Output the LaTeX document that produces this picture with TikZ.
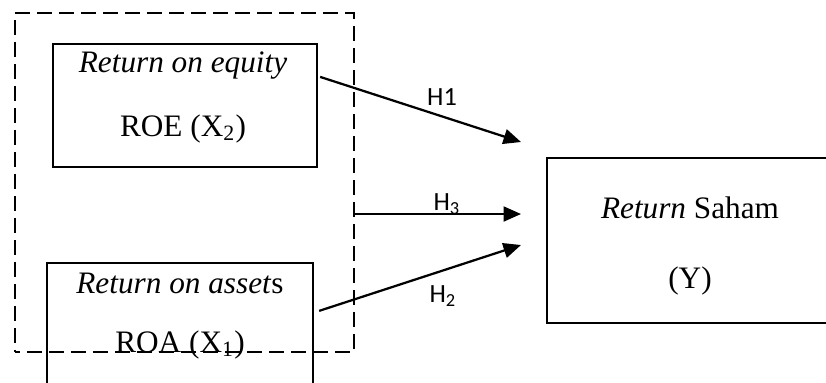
\documentclass[tikz,border=0pt]{standalone}
\usepackage{fontspec}
\setmainfont{Liberation Serif}
\newfontfamily\hfont{Carlito}
\usetikzlibrary{arrows.meta}

\begin{document}
\begin{tikzpicture}[x=0.4pt,y=-0.4pt,
  box/.style={draw,line width=0.9pt,inner sep=0pt},
  grpbox/.style={draw,dash pattern=on 6pt off 2.8pt,dash phase=4pt,line width=0.8pt,inner sep=0pt},
  txt/.style={anchor=base,inner sep=0pt,font=\fontsize{12.5}{15}\selectfont},
  hyp/.style={anchor=base,inner sep=0pt,font=\hfont\fontsize{10.5}{12}\selectfont},
  arr/.style={line width=0.9pt,-{Triangle[length=7pt,width=6pt]}}]
\useasboundingbox (0,0) rectangle (826,382);
\clip (0,0) rectangle (826,382);
% independent variables
\node[box,minimum width=105.6pt,minimum height=49.2pt] (roe) at (185,105.5) {};
\node[txt] (roeA) at (183,72.7) {\textit{Return on equity}};
\node[txt] (roeB) at (183,136) {ROE (X\textsubscript{2})};
\node[box,minimum width=106.4pt,minimum height=49.2pt] (roa) at (180,324.5) {};
\node[txt] (roaA) at (180,293) {\textit{Return on asset}s};
\node[txt] (roaB) at (180,352) {ROA (X\textsubscript{1})};
\node[grpbox,minimum width=135.6pt,minimum height=135.6pt] (grp) at (184.5,182.5) {};
% dependent variable
\node[box,minimum width=114.4pt,minimum height=66pt] (ret) at (690,240.5) {};
\node[txt] (retA) at (690,218) {\textit{Return} Saham};
\node[txt] (retB) at (690,288) {(Y)};
% hypotheses
\coordinate (t1) at (521,142);
\coordinate (t3) at (521,214);
\coordinate (t2) at (521,245);
\draw[arr] ([shift={(2,34)}]roe.north east) -- (t1);
\draw[arr] (grp.east |- t3) -- (t3);
\draw[arr] ([shift={(5,49)}]roa.north east) -- (t2);
\node[hyp] (h1) at (442,105) {H1};
\node[hyp] (h3) at (447,210) {H\textsubscript{3}};
\node[hyp] (h2) at (443,302) {H\textsubscript{2}};
\end{tikzpicture}
\end{document}
